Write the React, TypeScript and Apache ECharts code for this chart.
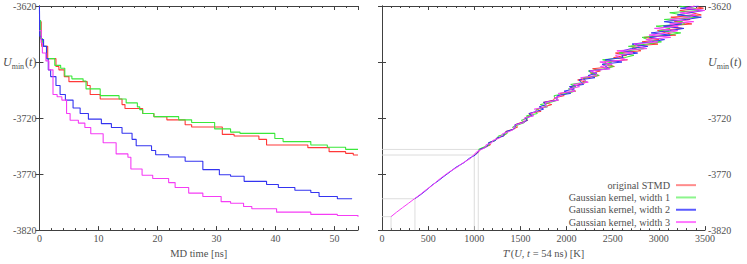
import React, { useEffect, useRef } from 'react';
import * as echarts from 'echarts';

const W = 747;
const H = 264;
const FONT = 'Liberation Serif';
const TXT = '#505050';
const FRAME = '#404040';

const seriesNames = ['original STMD', 'Gaussian kernel, width 1', 'Gaussian kernel, width 2', 'Gaussian kernel, width 3'];
const lineColors = ['#ff3838', '#3ae83a', '#3434f0', '#f53cf5'];
const legendColors = ['#ff8c8c', '#8cf58c', '#5a5aff', '#ff78ff'];

// left panel axis
const leftXMin = 0, leftXMax = 54, leftXStep = 10;
// right panel axis
const rightXMin = 0, rightXMax = 3500, rightXStep = 500;
// shared energy axis
const uMin = -3820, uMax = -3620, uStep = 50;
const uLabelValue = -3670; // tick replaced by U_min(t)

// left panel: running minimum, [time ns, U] at each drop
const redSteps = [[0,-3634],[0.3,-3649],[0.4,-3656],[1.4,-3667],[2.8,-3674],[3.3,-3677],[4.2,-3683],[5.0,-3687.5],[8.1,-3691],[8.6,-3699],[10.3,-3703],[14.0,-3708],[14.5,-3711.5],[17.5,-3716],[19.4,-3718.7],[21.6,-3721.6],[24.7,-3726],[25.8,-3728],[31,-3734.6],[33,-3736],[37.2,-3739],[38.5,-3744],[45.5,-3746.4],[49.1,-3750],[51.9,-3751.5],[53.2,-3753],[54,-3753]];
const greenSteps = [[0,-3633],[0.2,-3649],[0.5,-3656],[1.2,-3667],[2.6,-3673],[3.6,-3675.5],[4.3,-3682.5],[5.5,-3685],[7.4,-3687],[7.9,-3694],[10.3,-3700],[13.5,-3703],[14.7,-3706.5],[16.6,-3710],[17.0,-3712.5],[17.5,-3716],[19.4,-3718.7],[23.6,-3721.6],[25.8,-3724],[29.7,-3729.7],[32.4,-3732.6],[34,-3733.7],[39.9,-3738.3],[41.3,-3741],[46,-3744],[48.8,-3746],[51.9,-3748],[54,-3748]];
const blueSteps = [[0,-3620],[0.05,-3647],[0.3,-3650],[0.7,-3656],[1.2,-3667],[1.5,-3677],[1.9,-3683],[2.8,-3691],[3.5,-3699],[4.4,-3704],[5.7,-3711],[6.9,-3716],[8.3,-3721],[10.5,-3725],[12.2,-3728.5],[14,-3733.5],[15.7,-3739],[16.4,-3744.7],[19,-3749],[19.7,-3752.7],[21.9,-3754.8],[24.7,-3758.5],[27.7,-3766],[30.5,-3770.6],[32.4,-3772],[34.7,-3776.5],[38.5,-3779.3],[40.5,-3782],[43.3,-3784.5],[46,-3786.5],[47.4,-3790],[50.5,-3792],[53,-3792]];
const magentaSteps = [[0,-3642],[0.3,-3653],[0.5,-3662],[1.1,-3669],[1.6,-3677],[2.3,-3699],[3.0,-3701],[3.8,-3704],[4.6,-3716],[5.2,-3722],[6.6,-3724.5],[7.7,-3728.5],[8.7,-3734],[10.8,-3742],[13,-3752],[15,-3755],[15.5,-3765.5],[17.4,-3771],[19.2,-3774],[21.9,-3777.6],[23,-3782],[25.3,-3787],[27.7,-3790],[30.8,-3794.6],[32.4,-3796],[34.6,-3799],[36,-3801],[40.2,-3804],[46,-3806],[50.5,-3807],[54,-3808]];

// right panel: energy levels and T'(U) per series
const rightU = [-3808,-3804,-3800,-3796,-3792,-3788,-3784,-3780,-3776,-3772,-3768,-3764,-3760,-3756,-3753,-3750,
  -3748,-3746,-3744,-3742,-3740,-3738,-3736,-3734,-3732,-3730,-3728,-3726,-3724,-3722,-3720,-3718,-3716,-3714,-3712,-3710,
  -3708,-3706,-3704,-3702,-3700,-3698,-3696,-3694,-3692,-3690,-3688,-3686,-3684,-3682,-3680,-3678,-3676,-3674,-3672,-3670,
  -3668,-3666,-3664,-3662,-3660,-3658,-3656,-3654,-3652,-3650,-3648,-3646,-3644,-3642,-3640,-3638,-3636,-3634,-3632,-3630,
  -3628,-3626,-3624,-3622,-3620];

const redStart = 14;
const redT = [1000,1050,1060,1115,1175,1160,1225,1240,1315,1345,1340,1420,1470,1440,1505,1580,1548,
  1610,1592,1724,1681,1758,1840,1750,1860,1870,1975,1930,2098,2050,2045,2145,2215,2120,2233,2354,2260,
  2366,2282,2518,2444,2410,2660,2510,2650,2530,2805,2742,2700,2990,2818,3002,
  2838,3183,3077,2985,3252,3070,3357,3168,3339,3130,3460,3358,3226,3483,3370];
const greenStart = 16;
const greenT = [1043,1100,1165,1155,1230,1255,1260,1355,1360,1430,1415,1480,1545,1510,1583,
  1565,1682,1669,1676,1793,1715,1825,1910,1870,1865,2005,2093,2020,2100,2045,2205,2200,2178,2349,2275,
  2236,2422,2508,2394,2490,2390,2630,2730,2570,2665,2842,2670,2870,3028,2882,
  2818,3093,3237,3005,3122,2970,3277,3258,3059,3430,3260,3118,3436,3383,3220];
const blueStart = 4;
const blueT = [357,425,486,540,610,672,738,800,885,945,1012,
  1045,1060,1130,1150,1155,1230,1240,1320,1325,1345,1425,1445,1440,1525,1575,1553,
  1630,1592,1674,1751,1703,1780,1750,1900,1895,1900,2045,1973,2085,2030,2185,2155,2135,2308,2234,2330,
  2246,2462,2428,2384,2600,2420,2610,2600,2770,2605,2702,2880,2710,2918,3062,
  2898,3123,2917,3115,3272,3050,3247,3058,3299,3460,3200,3338,3486,3233,3430];
const magentaStart = 0;
const magentaT = [98,158,222,288,352,418,478,548,600,664,730,812,878,960,990,
  1030,1080,1125,1125,1192,1200,1270,1295,1305,1380,1430,1425,1450,1540,1540,1543,
  1645,1612,1679,1651,1788,1770,1770,1915,1870,1945,1910,2093,2030,2140,2075,2235,2175,2153,2324,2320,
  2256,2472,2368,2494,2360,2650,2570,2530,2720,2545,2872,2770,2730,2988,2862,
  3128,2893,3087,3205,2952,3210,3117,3378,3119,3330,3400,3228,3496,3293,3390];

const leftData = [redSteps, greenSteps, blueSteps, magentaSteps];
const rightT = [redT, greenT, blueT, magentaT];
const rightStarts = [redStart, greenStart, blueStart, magentaStart];

const uRich = {
  i: { fontFamily: FONT, fontStyle: 'italic', fontSize: 12, color: TXT, lineHeight: 16 },
  s: { fontFamily: FONT, fontSize: 8, color: TXT, lineHeight: 15, verticalAlign: 'bottom', padding: [0, 1, 0, 0] },
  n: { fontFamily: FONT, fontSize: 12, color: TXT, lineHeight: 16 },
};
const uFormatter = (v: number) =>
  Math.abs(v - uLabelValue) < 1e-6 ? '{i|U}{s|min}{n|(}{i|t}{n|)}' : String(v);

function xAxis(grid: number, pos: 'top' | 'bottom', min: number, max: number, step: number, labels: boolean, name?: string, rich?: any) {
  return {
    type: 'value', gridIndex: grid, position: pos, min, max, interval: step,
    axisLine: { show: true, lineStyle: { color: FRAME, width: 1 } },
    axisTick: { show: true, inside: true, length: 4, lineStyle: { color: FRAME } },
    minorTick: { show: true, splitNumber: 5, length: 2, lineStyle: { color: FRAME } },
    splitLine: { show: false },
    axisLabel: {
      show: labels, showMaxLabel: max % step === 0, margin: 3, fontFamily: FONT, fontSize: 10, color: TXT,
      formatter: (v: number) => String(v),
    },
    name: name ?? '', nameLocation: 'middle', nameGap: 15,
    nameTextStyle: { fontFamily: FONT, fontSize: 10.5, color: TXT, rich },
  };
}
function yAxis(grid: number, pos: 'left' | 'right', labels: boolean) {
  return {
    type: 'value', gridIndex: grid, position: pos, min: uMin, max: uMax, interval: uStep,
    axisLine: { show: true, lineStyle: { color: FRAME, width: 1 } },
    axisTick: { show: true, inside: true, length: 4, lineStyle: { color: FRAME } },
    splitLine: { show: false },
    axisLabel: { show: labels, margin: 3, fontFamily: FONT, fontSize: 10, color: TXT, formatter: uFormatter, rich: uRich },
  };
}

export default function App() {
  const ref = useRef<HTMLDivElement>(null);
  useEffect(() => {
    if (!ref.current) return;
    const chart = echarts.init(ref.current, undefined, { renderer: 'svg' });

    const series: any[] = [];
    // guide lines on right panel: from each curve's lowest energy to both axes
    rightT.forEach((arr, k) => {
      const t0 = arr[0];
      const u0 = rightU[rightStarts[k]];
      series.push({
        type: 'line', name: 'guide' + k, xAxisIndex: 2, yAxisIndex: 2, silent: true, showSymbol: false, z: 1,
        data: [[rightXMin, u0], [t0, u0], [t0, uMin]],
        lineStyle: { color: '#d4d4d4', width: 0.8 },
      });
    });
    leftData.forEach((d, k) => {
      series.push({
        type: 'line', name: seriesNames[k], xAxisIndex: 0, yAxisIndex: 0, step: 'end', showSymbol: false, z: 2 + k,
        data: d, lineStyle: { color: lineColors[k], width: 1.1 }, itemStyle: { color: lineColors[k] },
      });
    });
    rightT.forEach((arr, k) => {
      series.push({
        type: 'line', name: seriesNames[k], xAxisIndex: 2, yAxisIndex: 2, showSymbol: false, z: 2 + k,
        data: arr.map((t, i) => [t, rightU[i + rightStarts[k]]]),
        lineStyle: { color: lineColors[k], width: 1 }, itemStyle: { color: lineColors[k] },
      });
    });

    chart.setOption({
      animation: false,
      textStyle: { fontFamily: FONT },
      grid: [
        { left: 35, right: W - 358, top: 6, bottom: H - 237, show: false },
        { left: 382, right: W - 705, top: 6, bottom: H - 237, show: false },
      ],
      xAxis: [
        xAxis(0, 'bottom', leftXMin, leftXMax, leftXStep, true, 'MD time [ns]'),
        xAxis(0, 'top', leftXMin, leftXMax, leftXStep, false),
        xAxis(1, 'bottom', rightXMin, rightXMax, rightXStep, true, "{i|T}′({i|U}, {i|t} = 54 ns) [K]",
          { i: { fontFamily: FONT, fontStyle: 'italic', fontSize: 10.5, color: TXT } }),
        xAxis(1, 'top', rightXMin, rightXMax, rightXStep, false),
      ],
      yAxis: [
        yAxis(0, 'left', true),
        yAxis(0, 'right', false),
        yAxis(1, 'right', true),
        yAxis(1, 'left', false),
      ],
      legend: {
        orient: 'vertical', align: 'right', right: W - 701, top: 174, z: 20,
        itemWidth: 20, itemHeight: 2, itemGap: 0, icon: 'rect',
        textStyle: { fontFamily: FONT, fontSize: 10.2, color: TXT, lineHeight: 12.3, padding: [0, 1, 0, 0], backgroundColor: '#ffffff' },
        data: seriesNames.map((n, k) => ({ name: n, itemStyle: { color: legendColors[k] } })),
      },
      series,
    });
    return () => chart.dispose();
  }, []);
  return <div ref={ref} style={{ position: 'fixed', left: 0, top: 0, width: W, height: H, background: '#fff' }} />;
}
